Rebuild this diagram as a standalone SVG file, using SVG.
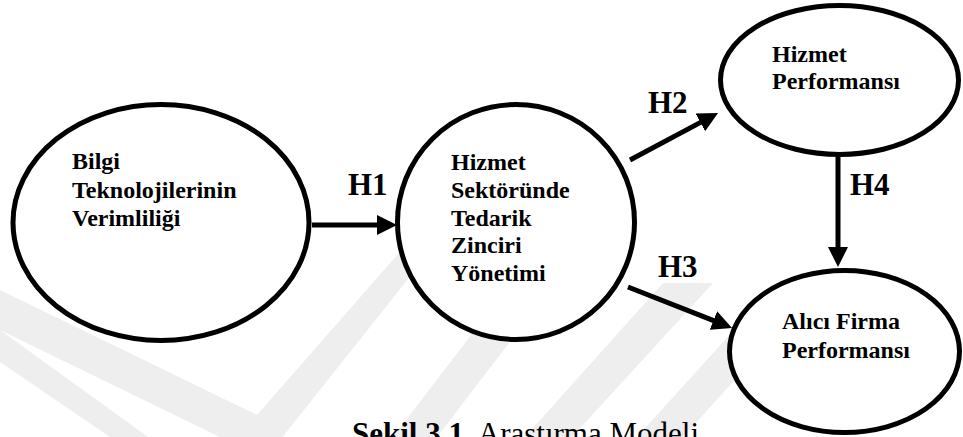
<svg xmlns="http://www.w3.org/2000/svg" width="963" height="437" viewBox="0 0 963 437">
  <style>
    .node { fill: #ffffff; stroke: #000000; stroke-width: 5; }
    .lbl { font-family: "Liberation Serif", "Times New Roman", serif; font-weight: bold; font-size: 24px; fill: #000000; }
    .hyp { font-family: "Liberation Serif", "Times New Roman", serif; font-weight: bold; font-size: 31px; fill: #000000; }
    .cap { font-family: "Liberation Serif", "Times New Roman", serif; font-size: 31px; fill: #000000; }
    .edge { stroke: #000000; stroke-width: 5; fill: none; marker-end: url(#head); }
    .wm { fill: #eeeeee; }
  </style>
  <defs>
    <marker id="head" viewBox="0 0 20 20" refX="5" refY="10" markerWidth="20" markerHeight="20" markerUnits="userSpaceOnUse" orient="auto">
      <path d="M0,0 L20,10 L0,20 z" fill="#000000"/>
    </marker>
  </defs>

  <rect x="0" y="0" width="963" height="437" fill="#ffffff"/>

  <!-- faint background stripes -->
  <g id="watermark">
    <polygon class="wm" points="0,330 148,437 110,437 0,362"/>
    <polygon class="wm" points="0,290 257,415 419,230 447,230 265,459 0,330"/>
    <polygon class="wm" points="393,437 498,300 542,300 437,437"/>
    <polygon class="wm" points="525,437 663,283 713,283 572,437"/>
    <polygon class="wm" points="637,437 734,330 780,330 683,437"/>
  </g>

  <g id="connectors">
    <line class="edge" x1="312" y1="225" x2="382" y2="225"/>
    <line class="edge" x1="630" y1="160" x2="704.8" y2="120.1"/>
    <line class="edge" x1="628" y1="287" x2="718.1" y2="322.4"/>
    <line class="edge" x1="838" y1="157" x2="838" y2="252"/>
    <text class="hyp" x="348" y="195">H1</text>
    <text class="hyp" x="648" y="113">H2</text>
    <text class="hyp" x="658" y="277">H3</text>
    <text class="hyp" x="850" y="195">H4</text>
  </g>

  <g id="bilgi-teknolojileri">
    <ellipse class="node" cx="161" cy="222.5" rx="148" ry="118"/>
    <text class="lbl" x="72" y="169">Bilgi</text>
    <text class="lbl" x="72" y="198">Teknolojilerinin</text>
    <text class="lbl" x="72" y="226">Verimliliği</text>
  </g>

  <g id="tedarik-zinciri">
    <ellipse class="node" cx="516" cy="222" rx="118.5" ry="117.5"/>
    <text class="lbl" x="451" y="170">Hizmet</text>
    <text class="lbl" x="451" y="197.75">Sektöründe</text>
    <text class="lbl" x="451" y="225.5">Tedarik</text>
    <text class="lbl" x="451" y="253.25">Zinciri</text>
    <text class="lbl" x="451" y="281">Yönetimi</text>
  </g>

  <g id="hizmet-performansi">
    <ellipse class="node" cx="839.5" cy="80" rx="119" ry="74.5"/>
    <text class="lbl" x="772" y="62">Hizmet</text>
    <text class="lbl" x="772" y="89">Performansı</text>
  </g>

  <g id="alici-firma">
    <ellipse class="node" cx="844.5" cy="351.5" rx="115" ry="81"/>
    <text class="lbl" x="782" y="329">Alıcı Firma</text>
    <text class="lbl" x="782" y="358">Performansı</text>
  </g>

  <text class="cap" x="352" y="444"><tspan font-weight="bold">Şekil 3.1.</tspan> Araştırma Modeli</text>
</svg>
